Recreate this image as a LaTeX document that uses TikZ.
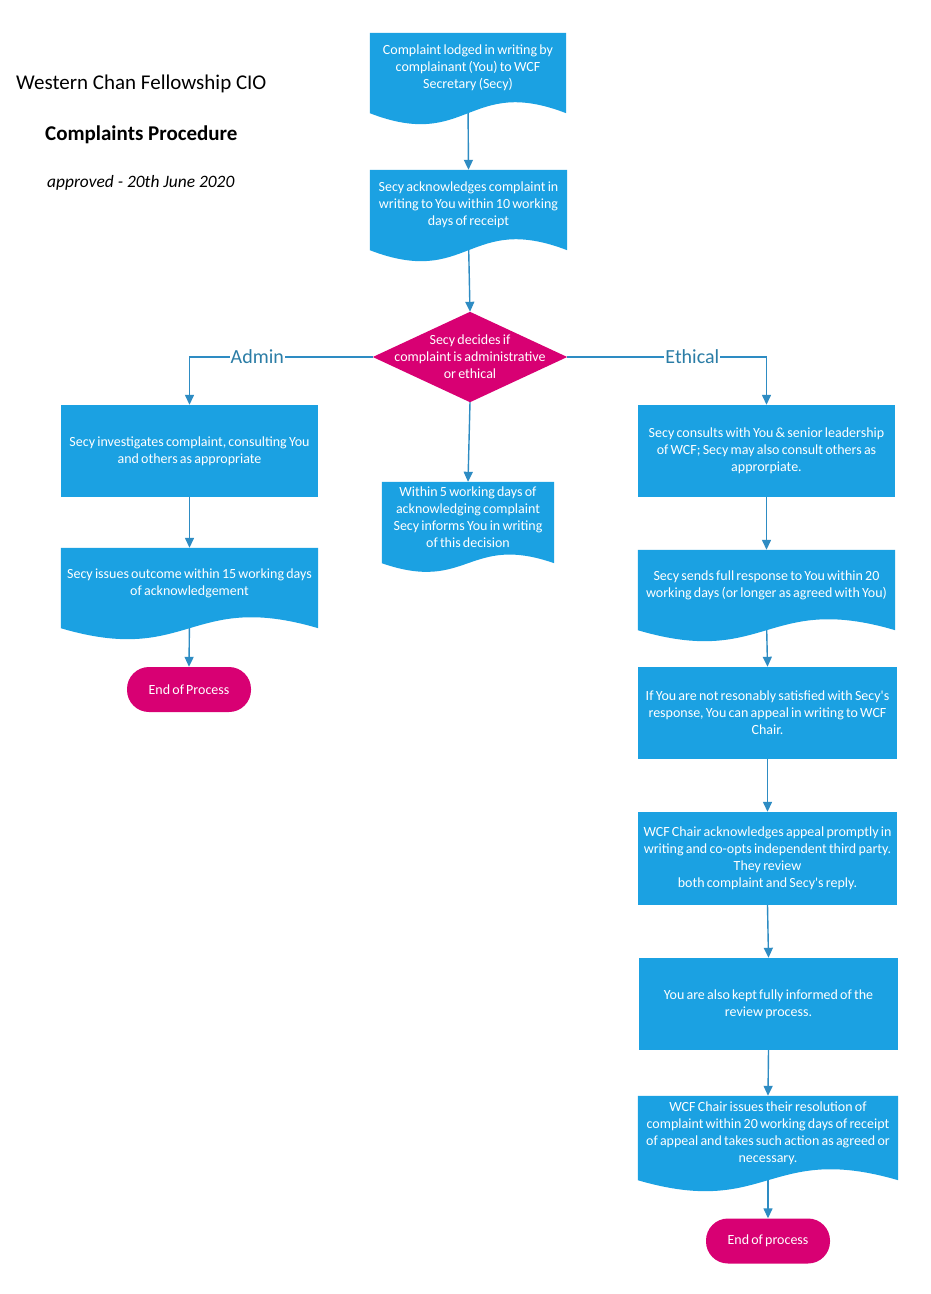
\documentclass[tikz,border=0pt]{standalone}
\usepackage{fontspec}
\setmainfont{Carlito}
\newfontfamily\boxfont{Carlito}[WordSpace=0.7]
\usetikzlibrary{arrows.meta,calc}
\definecolor{boxblue}{HTML}{1BA1E2}
\definecolor{endpink}{HTML}{D80073}
\definecolor{linkblue}{HTML}{2E8CC3}
\definecolor{labblue}{HTML}{2B7DA6}
\pgfdeclarelayer{edges}
\pgfdeclarelayer{docfill}
\pgfsetlayers{edges,docfill,main}
\tikzset{
  boxtext/.style={font=\boxfont\fontsize{14}{17}\selectfont, text=white, align=center},
  procbox/.style={boxtext, fill=boxblue, inner sep=0pt},
  docbox/.style={boxtext, inner sep=0pt},
  endbox/.style={boxtext, fill=endpink, rounded corners=22pt, inner sep=0pt,
    minimum width=124pt, minimum height=45pt},
  decbox/.style={boxtext, inner sep=0pt, minimum width=194pt, minimum height=90pt},
  link/.style={draw=linkblue, line width=1.4pt, -{Triangle[length=10pt,width=9pt]}},
  branch/.style={font=\fontsize{20}{22}\selectfont, text=labblue, fill=white, inner sep=1pt},
}
\newcommand\docwave[3]{%
  \fill[boxblue] (#1.north west) -- (#1.north east) -- ($(#1.south east)+(0,#2)$)
    .. controls ($(#1.south)+(0,#2-#3)$) and ($(#1.south)+(0,#2+#3)$) ..
    ($(#1.south west)+(0,#2)$) -- cycle;}
\begin{document}
\begin{tikzpicture}[x=1pt,y=-1pt]
\begin{pgfonlayer}{edges}
\fill[white] (0,0) rectangle (930,1294);
\end{pgfonlayer}
\useasboundingbox (0,0) rectangle (930,1294);

% title
\node[anchor=west, font=\fontsize{21}{24}\selectfont, inner sep=0pt] (title) at (16,84) {Western Chan Fellowship CIO};
\node[anchor=west, font=\fontsize{21}{24}\selectfont\bfseries, inner sep=0pt] (sub) at (45,135) {Complaints Procedure};
\node[anchor=west, font=\fontsize{17.4}{20}\selectfont\itshape, inner sep=0pt] (appr) at (47,183) {approved - 20th June 2020};

% centre
\node[docbox, minimum width=196pt, minimum height=70pt] (d1) at (468,68)
  {Complaint lodged in writing by\\ complainant (You) to WCF\\ Secretary (Secy)};
\node[docbox, minimum width=197pt, minimum height=70pt] (d2) at (468.5,205)
  {Secy acknowledges complaint in\\ writing to You within 10 working\\ days of receipt};
\node[decbox] (dia) at (470,357)
  {Secy decides if\\ complaint is administrative\\ or ethical};
\node[docbox, minimum width=172pt, minimum height=71pt] (mid) at (468,517.5)
  {Within 5 working days of\\ acknowledging complaint\\ Secy informs You in writing\\ of this decision};

% left
\node[procbox, minimum width=257pt, minimum height=92pt] (l1) at (189.5,451)
  {Secy investigates complaint, consulting You\\ and others as appropriate};
\node[docbox, minimum width=257pt, minimum height=70pt] (l2) at (189.5,583)
  {Secy issues outcome within 15 working days\\ of acknowledgement};
\node[endbox] (endl) at (189,689.5) {End of Process};

% right
\node[procbox, minimum width=257pt, minimum height=92pt] (r1) at (766.5,451)
  {Secy consults with You \& senior leadership\\ of WCF; Secy may also consult others as\\ approrpiate.};
\node[docbox, minimum width=257pt, minimum height=70pt] (r2) at (766.5,585)
  {Secy sends full response to You within 20\\ working days (or longer as agreed with You)};
\node[procbox, minimum width=259pt, minimum height=92pt] (r3) at (767.5,713)
  {If You are not resonably satisfied with Secy's\\ response, You can appeal in writing to WCF\\ Chair.};
\node[procbox, minimum width=259pt, minimum height=93pt] (r4) at (767.5,858.5)
  {WCF Chair acknowledges appeal promptly in\\ writing and co-opts independent third party.\\ They review\\ both complaint and Secy's reply.};
\node[procbox, minimum width=259pt, minimum height=92pt] (r5) at (768.5,1004)
  {You are also kept fully informed of the\\ review process.};
\node[docbox, minimum width=260pt, minimum height=74pt] (r6) at (768,1133)
  {WCF Chair issues their resolution of\\ complaint within 20 working days of receipt\\ of appeal and takes such action as agreed or\\ necessary.};
\node[endbox] (endr) at (768,1241) {End of process};

% document and decision fills
\begin{pgfonlayer}{docfill}
\docwave{d1}{10}{38}
\docwave{d2}{10}{38}
\docwave{mid}{10}{30}
\docwave{l2}{10}{38}
\docwave{r2}{10}{38}
\docwave{r6}{10}{38}
\fill[endpink] (dia.north) -- (dia.east) -- (dia.south) -- (dia.west) -- cycle;
\end{pgfonlayer}

% connectors
\begin{pgfonlayer}{edges}
\draw[link] (d1.south) -- (d2.north);
\draw[link] (d2.south) -- (dia.north);
\draw[link] (dia.west) -| node[branch, pos=0.315] (ladm) {Admin} (l1.north);
\draw[link] (dia.east) -| node[branch, pos=0.314] (leth) {Ethical} (r1.north);
\draw[link] (dia.south) -- (mid.north);
\draw[link] (l1.south) -- (l2.north);
\draw[link] (l2.south) -- (endl.north);
\draw[link] (r1.south) -- (r2.north);
\draw[link] (r2.south) -- (r3.north);
\draw[link] (r3.south) -- (r4.north);
\draw[link] (r4.south) -- (r5.north);
\draw[link] (r5.south) -- (r6.north);
\draw[link] (r6.south) -- (endr.north);
\end{pgfonlayer}
\end{tikzpicture}
\end{document}
